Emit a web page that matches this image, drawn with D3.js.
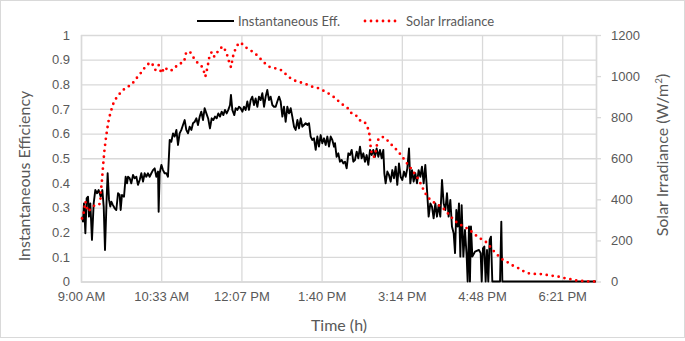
<!DOCTYPE html>
<html>
<head>
<meta charset="utf-8">
<script src="https://cdn.jsdelivr.net/npm/d3@7"></script>
<style>
  body { margin: 0; background: #fff; }
  svg { display: block; font-family: Lato, "Open Sans", sans-serif; }
</style>
</head>
<body>
<script>
// Minutes after 9:00 AM and efficiency
const effMinutes = [1.2, 2.3, 3.5, 5.1, 6.6, 8.2, 9.3, 10.9, 12.8, 14.8, 16.7, 18.7, 20.6, 23.0, 24.9, 26.5, 28.0, 30.0, 31.1, 32.7,
    34.2, 35.4, 37.3, 39.3, 41.2, 43.2, 45.1, 46.3, 47.8, 50.2, 52.1, 53.7, 54.9, 56.8, 58.7, 60.7, 62.6, 64.6, 66.5, 68.5,
    70.4, 72.4, 74.3, 76.2, 78.2, 80.1, 82.1, 84.0, 86.0, 87.9, 89.9, 90.6, 91.8, 93.8, 95.7, 97.6, 99.6, 101.5, 103.5, 105.4,
    107.4, 109.3, 111.3, 113.2, 115.1, 117.1, 119.0, 121.0, 122.9, 124.9, 126.8, 128.8, 130.7, 132.7, 134.6, 136.5, 138.5, 140.4, 142.4, 144.3,
    146.3, 148.5, 150.5, 152.5, 154.4, 156.4, 158.3, 160.3, 162.2, 164.2, 166.1, 168.0, 170.0, 171.9, 173.9, 175.0, 176.6, 178.9, 180.5, 182.4,
    184.4, 186.3, 188.3, 190.2, 192.2, 194.1, 196.0, 198.0, 199.9, 201.9, 203.8, 205.8, 207.7, 209.7, 211.6, 213.6, 215.5, 217.4, 219.4, 221.3,
    223.3, 225.2, 227.2, 229.1, 231.1, 233.0, 235.0, 236.9, 238.8, 240.8, 242.7, 244.7, 246.6, 248.6, 250.5, 252.5, 254.4, 256.4, 258.3, 260.2,
    262.2, 264.1, 266.1, 268.0, 270.0, 271.9, 273.9, 275.8, 277.7, 279.7, 281.6, 283.6, 285.5, 287.5, 289.4, 291.4, 293.3, 295.3, 296.4, 298.3,
    300.3, 302.2, 304.2, 306.1, 308.1, 310.0, 312.0, 313.9, 315.9, 317.8, 319.7, 321.7, 323.6, 325.6, 327.5, 329.5, 331.4, 333.4, 335.3, 337.3,
    339.2, 341.1, 343.1, 345.0, 347.0, 348.9, 350.9, 352.8, 354.0, 355.5, 357.5, 359.4, 361.4, 363.3, 365.3, 367.2, 369.1, 371.1, 373.0, 375.0,
    376.9, 378.9, 380.8, 382.8, 384.3, 386.3, 388.2, 390.2, 392.1, 394.0, 396.0, 397.9, 399.9, 401.8, 403.8, 405.7, 407.7, 409.6, 411.5, 413.5,
    415.4, 417.4, 419.3, 421.3, 423.2, 425.2, 427.1, 429.0, 431.0, 432.9, 434.9, 436.5, 438.0, 439.6, 441.1, 442.7, 444.2, 446.2, 448.1, 450.1,
    451.2, 452.8, 453.9, 455.1, 456.7, 459.8, 464.4, 466.4, 467.6, 469.1, 470.7, 472.2, 473.8, 475.3, 476.9, 478.4, 480.0, 489.0, 490.5, 491.7,
    601.0];
const effValues = [0.263, 0.243, 0.317, 0.196, 0.337, 0.344, 0.263, 0.317, 0.169, 0.317, 0.371, 0.358, 0.371, 0.344, 0.371, 0.304, 0.128, 0.344, 0.439, 0.331,
    0.304, 0.324, 0.31, 0.297, 0.29, 0.358, 0.351, 0.29, 0.351, 0.344, 0.425, 0.398, 0.425, 0.419, 0.398, 0.432, 0.419, 0.425, 0.392, 0.412,
    0.439, 0.405, 0.439, 0.425, 0.439, 0.425, 0.439, 0.452, 0.459, 0.425, 0.446, 0.283, 0.439, 0.473, 0.452, 0.439, 0.439, 0.425, 0.574, 0.567,
    0.601, 0.588, 0.615, 0.554, 0.601, 0.615, 0.635, 0.655, 0.615, 0.601, 0.628, 0.615, 0.642, 0.648, 0.662, 0.635, 0.669, 0.689, 0.655, 0.703,
    0.682, 0.66, 0.621, 0.662, 0.655, 0.669, 0.662, 0.682, 0.669, 0.689, 0.675, 0.696, 0.682, 0.696, 0.716, 0.757, 0.696, 0.675, 0.703, 0.696,
    0.709, 0.703, 0.689, 0.709, 0.696, 0.730, 0.696, 0.736, 0.750, 0.716, 0.743, 0.709, 0.750, 0.736, 0.764, 0.709, 0.750, 0.777, 0.736, 0.750,
    0.716, 0.709, 0.709, 0.730, 0.750, 0.730, 0.669, 0.709, 0.648, 0.709, 0.682, 0.703, 0.669, 0.628, 0.615, 0.655, 0.621, 0.662, 0.628, 0.635,
    0.642, 0.635, 0.642, 0.588, 0.574, 0.581, 0.534, 0.588, 0.547, 0.594, 0.561, 0.581, 0.554, 0.588, 0.547, 0.588, 0.574, 0.547, 0.561, 0.506,
    0.520, 0.486, 0.493, 0.479, 0.486, 0.459, 0.520, 0.513, 0.534, 0.486, 0.493, 0.527, 0.500, 0.547, 0.500, 0.520, 0.486, 0.513, 0.473, 0.534,
    0.513, 0.534, 0.506, 0.540, 0.506, 0.534, 0.500, 0.534, 0.439, 0.398, 0.446, 0.432, 0.405, 0.452, 0.419, 0.466, 0.392, 0.479, 0.425, 0.412,
    0.446, 0.425, 0.459, 0.540, 0.398, 0.452, 0.405, 0.439, 0.398, 0.452, 0.425, 0.466, 0.398, 0.473, 0.371, 0.263, 0.317, 0.304, 0.256, 0.317,
    0.263, 0.310, 0.263, 0.412, 0.317, 0.290, 0.358, 0.263, 0.331, 0.223, 0.196, 0.115, 0.290, 0.223, 0.317, 0.101, 0.310, 0.101, 0.209, 0.101,
    0, 0.223, 0, 0.223, 0.101, 0.121, 0.128, 0.115, 0, 0.135, 0.142, 0, 0.128, 0, 0.169, 0.182, 0, 0, 0.243, 0,
    0];

// Minutes after 9:00 AM and solar irradiance (W/m2)
const irrMinutes = [1.2, 3.5, 5.1, 8.2, 12.1, 16.0, 19.8, 22.6, 23.0, 24.5, 25.7, 27.2, 28.8, 30.7, 32.7, 35.4, 38.5, 42.4, 47.1, 52.9,
    58.7, 64.6, 68.5, 72.4, 76.2, 80.1, 84.0, 86.7, 90.6, 93.8, 97.6, 102.3, 107.4, 113.2, 120.2, 122.9, 128.0, 131.9, 136.5, 141.2,
    143.5, 145.1, 147.8, 149.4, 152.5, 155.6, 158.3, 162.2, 166.1, 170.0, 171.9, 175.0, 177.8, 180.5, 184.4, 188.3, 192.2, 197.2, 203.1, 208.9,
    214.7, 220.6, 226.4, 232.2, 236.1, 242.0, 247.8, 253.6, 259.5, 265.3, 271.1, 277.0, 282.8, 288.6, 294.5, 301.1, 306.1, 311.2, 315.9, 320.5,
    325.6, 330.6, 334.1, 336.1, 336.9, 337.6, 338.4, 340.0, 342.3, 343.9, 345.4, 347.0, 350.9, 355.5, 360.6, 365.6, 370.3, 375.0, 378.9, 382.8,
    386.6, 390.5, 394.4, 397.5, 400.7, 403.8, 407.7, 412.3, 417.0, 421.7, 426.3, 431.0, 435.7, 440.3, 446.2, 452.8, 457.8, 462.9, 467.6, 472.2,
    477.3, 482.3, 487.0, 491.7, 496.7, 502.6, 508.4, 515.0, 522.0, 527.9, 535.6, 543.4, 550.0, 557.0, 564.8, 571.8, 578.4, 586.2, 594.0, 601.0];
const irrValues = [307, 340, 389, 340, 356, 372, 372, 380, 430, 494, 559, 632, 689, 745, 794, 835, 876, 900, 924, 946,
    956, 989, 1006, 1033, 1046, 1067, 1054, 1030, 1054, 1013, 1043, 1026, 1030, 1057, 1068, 1118, 1114, 1086, 1062, 1046,
    1021, 997, 1046, 1086, 1118, 1094, 1111, 1135, 1144, 1111, 1081, 1043, 1103, 1135, 1163, 1156, 1140, 1127, 1111, 1086,
    1062, 1043, 1038, 1033, 1021, 997, 980, 973, 965, 956, 946, 941, 929, 916, 900, 876, 859, 844, 818, 811,
    784, 779, 754, 730, 706, 673, 641, 611, 607, 632, 665, 692, 706, 697, 673, 653, 632, 607, 583, 563,
    542, 518, 494, 466, 438, 416, 397, 384, 372, 361, 340, 319, 296, 283, 268, 254, 235, 218, 205, 194,
    170, 145, 125, 108, 97, 80, 70, 53, 40, 37, 37, 32, 28, 24, 16, 11, 5, 2, 0, 0];

const xTickMinutes = [0, 93.6, 187.2, 280.8, 374.4, 468, 561.6];
const xTickLabels = ["9:00 AM", "10:33 AM", "12:07 PM", "1:40 PM", "3:14 PM", "4:48 PM", "6:21 PM"];
const effTicks = [0, 0.1, 0.2, 0.3, 0.4, 0.5, 0.6, 0.7, 0.8, 0.9, 1];
const irrTicks = [0, 200, 400, 600, 800, 1000, 1200];

const width = 685;
const height = 341;
const plotLeft = 81;
const plotRight = 596;
const plotTop = 35;
const plotBottom = 281.5;
const gridColor = "#d9d9d9";
const textColor = "#595959";

const effData = effMinutes.map((m, i) => ({ m, v: effValues[i] }));
const irrData = irrMinutes.map((m, i) => ({ m, v: irrValues[i] }));

const x = d3.scaleLinear().domain([0, 601]).range([plotLeft, plotRight]);
const yLeft = d3.scaleLinear().domain([0, 1]).range([plotBottom, plotTop]);
const yRight = d3.scaleLinear().domain([0, 1200]).range([plotBottom, plotTop]);

const svg = d3.select("body").append("svg")
    .attr("width", width)
    .attr("height", height)
    .attr("viewBox", [0, 0, width, height]);

// chart border
svg.append("rect")
    .attr("x", 0.5).attr("y", 0.5)
    .attr("width", width - 1).attr("height", 337)
    .attr("fill", "#fff")
    .attr("stroke", gridColor);

// horizontal gridlines + left labels
svg.append("g")
    .attr("transform", `translate(${plotLeft},0)`)
    .call(d3.axisLeft(yLeft).tickValues(effTicks).tickFormat(d3.format("~g"))
        .tickSize(-(plotRight - plotLeft)).tickPadding(11))
    .call(g => g.select(".domain").remove())
    .call(g => g.selectAll(".tick line").attr("stroke", gridColor).attr("stroke-width", 1.3))
    .call(g => g.selectAll("text").attr("fill", textColor).style("font-size", "13px"));

// vertical gridlines + time labels
svg.append("g")
    .attr("transform", `translate(0,${plotBottom})`)
    .call(d3.axisBottom(x).tickValues(xTickMinutes).tickFormat((d, i) => xTickLabels[i])
        .tickSize(-(plotBottom - plotTop)).tickPadding(10))
    .call(g => g.select(".domain").attr("stroke", gridColor).attr("stroke-width", 1.5))
    .call(g => g.selectAll(".tick line").attr("stroke", gridColor).attr("stroke-width", 1.3))
    .call(g => g.selectAll("text").attr("fill", textColor).style("font-size", "13px"));

// right axis
svg.append("g")
    .attr("transform", `translate(${plotRight},0)`)
    .call(d3.axisRight(yRight).tickValues(irrTicks).tickFormat(d3.format("d"))
        .tickSize(5).tickPadding(10).tickSizeOuter(0))
    .call(g => g.select(".domain").attr("stroke", gridColor).attr("stroke-width", 1.3))
    .call(g => g.selectAll(".tick line").attr("stroke", gridColor).attr("stroke-width", 1.3))
    .call(g => g.selectAll("text").attr("fill", textColor).style("font-size", "13px"));

// efficiency line
svg.append("path")
    .datum(effData)
    .attr("fill", "none")
    .attr("stroke", "#000")
    .attr("stroke-width", 1.9)
    .attr("stroke-linejoin", "round")
    .attr("d", d3.line().x(d => x(d.m)).y(d => yLeft(d.v)));

// irradiance dotted line
svg.append("path")
    .datum(irrData)
    .attr("fill", "none")
    .attr("stroke", "#ff0000")
    .attr("stroke-width", 2.8)
    .attr("stroke-linecap", "round")
    .attr("stroke-dasharray", "0 6")
    .attr("d", d3.line().x(d => x(d.m)).y(d => yRight(d.v)));

// axis titles
svg.append("text")
    .attr("transform", "translate(30,176) rotate(-90)")
    .attr("text-anchor", "middle")
    .attr("fill", textColor)
    .style("font-size", "16px")
    .text("Instantaneous Efficiency");

const rightTitle = svg.append("text")
    .attr("transform", "translate(668,155) rotate(-90)")
    .attr("text-anchor", "middle")
    .attr("fill", textColor)
    .style("font-size", "16px");
rightTitle.append("tspan").text("Solar Irradiance (W/m");
rightTitle.append("tspan").attr("dy", -6).style("font-size", "10px").text("2");
rightTitle.append("tspan").attr("dy", 6).text(")");

svg.append("text")
    .attr("x", 339).attr("y", 331)
    .attr("text-anchor", "middle")
    .attr("fill", textColor)
    .style("font-size", "16px")
    .text("Time (h)");

// legend
const legend = svg.append("g").style("font-size", "13px").attr("fill", textColor);
legend.append("line")
    .attr("x1", 197).attr("x2", 234).attr("y1", 21).attr("y2", 21)
    .attr("stroke", "#000").attr("stroke-width", 1.8);
legend.append("text").attr("x", 238).attr("y", 25.5).text("Instantaneous Eff.");
legend.append("line")
    .attr("x1", 365).attr("x2", 400).attr("y1", 21).attr("y2", 21)
    .attr("stroke", "#ff0000").attr("stroke-width", 2.8)
    .attr("stroke-linecap", "round").attr("stroke-dasharray", "0 6");
legend.append("text").attr("x", 406).attr("y", 25.5).text("Solar Irradiance");
</script>
</body>
</html>
